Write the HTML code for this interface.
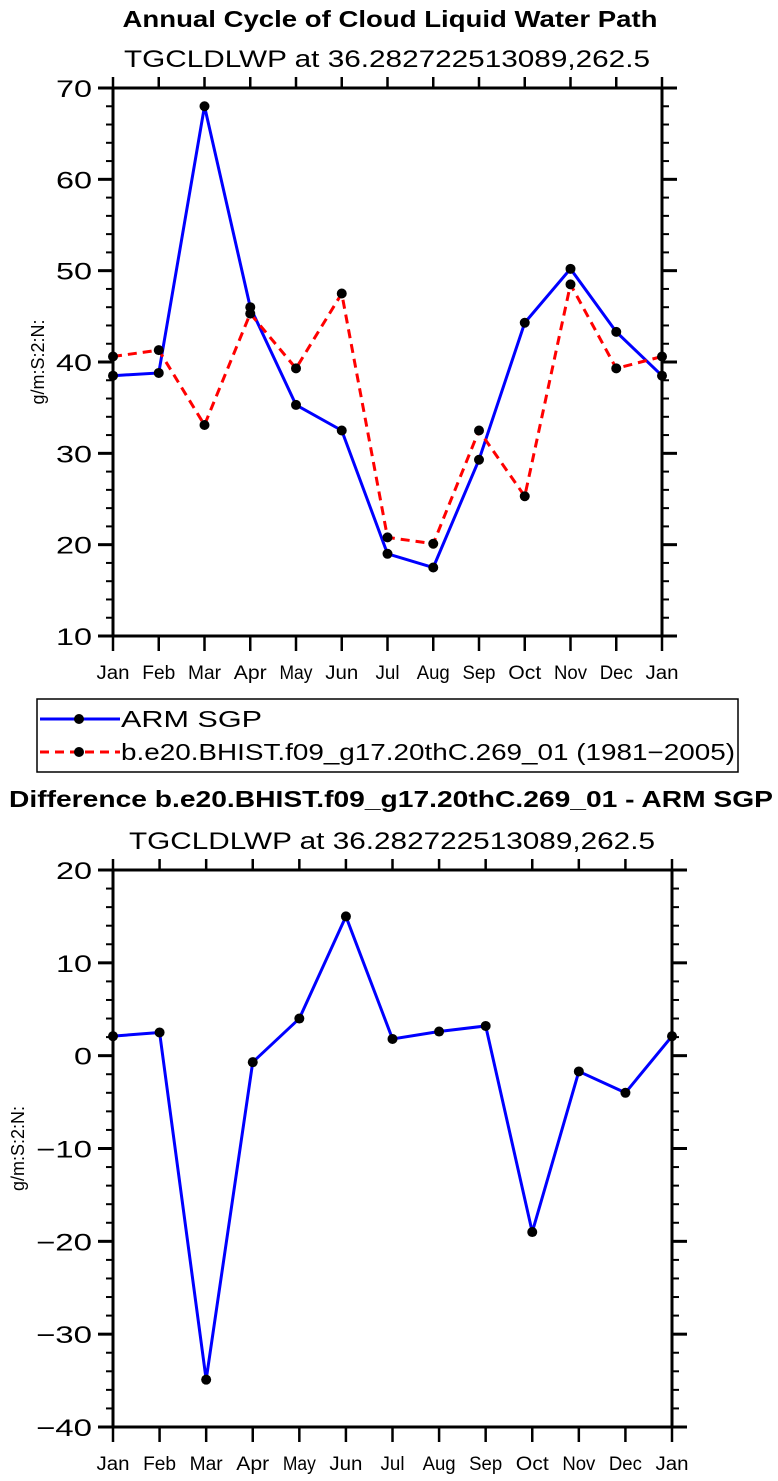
<!DOCTYPE html>
<html><head><meta charset="utf-8"><style>
html,body{margin:0;padding:0;background:#fff;}
svg{display:block;}
text{font-family:"Liberation Sans",sans-serif;fill:#000;}
</style></head><body>
<svg id="chart" width="778" height="1481" xmlns="http://www.w3.org/2000/svg">
<text x="390" y="27" font-size="23" font-weight="bold" text-anchor="middle" textLength="535" lengthAdjust="spacingAndGlyphs">Annual Cycle of Cloud Liquid Water Path</text>
<text x="387" y="67" font-size="24" text-anchor="middle" textLength="526" lengthAdjust="spacingAndGlyphs">TGCLDLWP  at  36.282722513089,262.5</text>
<text x="391" y="807" font-size="23" font-weight="bold" text-anchor="middle" textLength="764" lengthAdjust="spacingAndGlyphs">Difference b.e20.BHIST.f09_g17.20thC.269_01 - ARM SGP</text>
<text x="392" y="849" font-size="24" text-anchor="middle" textLength="526" lengthAdjust="spacingAndGlyphs">TGCLDLWP  at  36.282722513089,262.5</text>
<g id="legend">
<rect x="37" y="699" width="701" height="73" fill="none" stroke="#000" stroke-width="1.5"/>
<g>
<line x1="40" y1="719" x2="120" y2="719" stroke="#0000ff" stroke-width="3"/>
<circle cx="79" cy="719" r="5" fill="#000"/>
<text x="121" y="727" font-size="23" textLength="141" lengthAdjust="spacingAndGlyphs">ARM  SGP</text></g>
<g>
<line x1="40" y1="752" x2="120" y2="752" stroke="#ff0000" stroke-width="3" stroke-dasharray="9,6"/>
<circle cx="79" cy="752" r="5" fill="#000"/>
<text x="121" y="760" font-size="23" textLength="614" lengthAdjust="spacingAndGlyphs">b.e20.BHIST.f09_g17.20thC.269_01  (1981−2005)</text></g>
</g>
</svg>
<script>
const months = ["Jan","Feb","Mar","Apr","May","Jun","Jul","Aug","Sep","Oct","Nov","Dec","Jan"];
const armValues = [38.5,38.8,68.0,46.0,35.3,32.5,19.0,17.5,29.3,44.3,50.2,43.3,38.5];
const modelValues = [40.6,41.3,33.1,45.3,39.3,47.5,20.8,20.1,32.5,25.3,48.5,39.3,40.6];
const diffValues = [2.1,2.5,-34.9,-0.7,4.0,15.0,1.8,2.6,3.2,-19.0,-1.7,-4.0,2.1];
const topTicks = [10,20,30,40,50,60,70];
const bottomTicks = [-40,-30,-20,-10,0,10,20];

const NS="http://www.w3.org/2000/svg";
const svg=document.getElementById('chart');
function mk(tag,attrs,parent){const e=document.createElementNS(NS,tag);for(const k in attrs)e.setAttribute(k,attrs[k]);(parent||svg).appendChild(e);return e;}

function panel(cfg){
  const {x0,x1,y0,y1,vmin,vmax,ticks,name,ylabelX}=cfg;
  const g=mk('g',{});
  
  
  const xs=i=>x0+(x1-x0)*i/(months.length-1);
  const ys=v=>y1-(v-vmin)/(vmax-vmin)*(y1-y0);
  const fr=mk('rect',{x:x0,y:y0,width:x1-x0,height:y1-y0,fill:'none',stroke:'#000','stroke-width':3},g);
  
  
  for(let v=vmin;v<=vmax+1e-9;v+=2){
    const major=ticks.includes(v);const L=major?15:7;const y=ys(v);
    mk('line',{x1:x0-L,y1:y,x2:x0,y2:y,stroke:'#000','stroke-width':major?3:2},g);
    mk('line',{x1:x1,y1:y,x2:x1+L,y2:y,stroke:'#000','stroke-width':major?3:2},g);
  }
  ticks.forEach(v=>{
    const s=(v<0?'\u2212'+(-v):String(v));
    const w=v<0?56:(v===0?18:36);
    const t=mk('text',{x:x0-21,y:ys(v)+9,'font-size':24,'text-anchor':'end',textLength:w,lengthAdjust:'spacingAndGlyphs'},g);
    t.textContent=s;
    
    
  });
  months.forEach((m,i)=>{
    const x=xs(i);
    mk('line',{x1:x,y1:y0-11,x2:x,y2:y0,stroke:'#000','stroke-width':2.5},g);
    mk('line',{x1:x,y1:y1,x2:x,y2:y1+15,stroke:'#000','stroke-width':2.5},g);
    const t=mk('text',{x:x,y:y1+43,'font-size':19,'text-anchor':'middle',textLength:(m==='Jul'?24:33),lengthAdjust:'spacingAndGlyphs'},g);
    t.textContent=m;
    
    
  });
  const yl=mk('text',{x:0,y:0,'font-size':18,'text-anchor':'middle',transform:`translate(${ylabelX},${(y0+y1)/2}) rotate(-90)`},g);
  yl.textContent='g/m:S:2:N:';
  
  
  cfg.series.forEach(s=>{
    const pts=s.values.map((v,i)=>xs(i)+','+ys(v)).join(' ');
    const pl=mk('polyline',{points:pts,fill:'none',stroke:s.color,'stroke-width':3,'stroke-dasharray':s.dash||'none'},g);
    
    
    s.values.forEach((v,i)=>{
      const c=mk('circle',{cx:xs(i),cy:ys(v),r:5,fill:'#000'},g);
      
      
    });
  });
}
panel({name:'top',x0:113,x1:662,y0:88,y1:636,vmin:10,vmax:70,ticks:topTicks,ylabelX:44,
  series:[{name:'arm-sgp',values:armValues,color:'#0000ff'},{name:'model',values:modelValues,color:'#ff0000',dash:'9,6'}]});
panel({name:'bottom',x0:113,x1:672,y0:870,y1:1427,vmin:-40,vmax:20,ticks:bottomTicks,ylabelX:24,
  series:[{name:'difference',values:diffValues,color:'#0000ff'}]});
</script>
</body></html>
